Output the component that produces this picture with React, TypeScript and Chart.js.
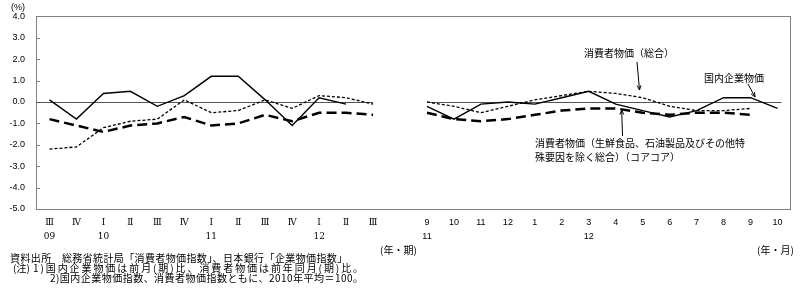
import React, { useEffect, useRef } from 'react';
import { Chart, registerables } from 'chart.js';

Chart.register(...registerables);

// ---- category / tick labels ----
const quarterTicks = ['Ⅲ', 'Ⅳ', 'Ⅰ', 'Ⅱ', 'Ⅲ', 'Ⅳ', 'Ⅰ', 'Ⅱ', 'Ⅲ', 'Ⅳ', 'Ⅰ', 'Ⅱ', 'Ⅲ'];
const quarterYears = ['09', '', '10', '', '', '', '11', '', '', '', '12', '', ''];
const monthTicks = ['9', '10', '11', '12', '1', '2', '3', '4', '5', '6', '7', '8', '9', '10'];
const monthYears = ['11', '', '', '', '', '', '12', '', '', '', '', '', '', ''];

// ---- series values (%) ----
// 国内企業物価 (前期比 / 前月比)
const cgpiQuarterly = [0.1, -0.8, 0.4, 0.5, -0.2, 0.3, 1.2, 1.2, 0.1, -1.1, 0.2, -0.1, null];
const cgpiMonthly = [-0.2, -0.8, -0.1, 0.0, -0.1, 0.2, 0.5, -0.1, -0.4, -0.7, -0.4, 0.2, 0.2, -0.3];
// 消費者物価(総合) (前年同期比 / 前年同月比)
const cpiQuarterly = [-2.2, -2.1, -1.2, -0.9, -0.8, 0.1, -0.5, -0.4, 0.1, -0.3, 0.3, 0.2, -0.1];
const cpiMonthly = [0.0, -0.2, -0.5, -0.2, 0.1, 0.3, 0.5, 0.4, 0.2, -0.2, -0.4, -0.4, -0.3, null];
// 消費者物価(コアコア)
const coreQuarterly = [-0.8, -1.1, -1.4, -1.1, -1.0, -0.7, -1.1, -1.0, -0.6, -0.9, -0.5, -0.5, -0.6];
const coreMonthly = [-0.5, -0.8, -0.9, -0.8, -0.6, -0.4, -0.3, -0.3, -0.5, -0.6, -0.5, -0.5, -0.6, null];

const Y_MIN = -5;
const Y_MAX = 4;
const Y_STEP = 1;

// ---- texts ----
const unitText = '(%)';
const quarterAxisText = '(年・期)';
const monthAxisText = '(年・月)';
const sourceText = '資料出所　総務省統計局「消費者物価指数」、日本銀行「企業物価指数」';
const noteHead = '(注)';
const note1 = '1)国内企業物価は前月(期)比、消費者物価は前年同月(期)比。';
const note2 = '2)国内企業物価指数、消費者物価指数ともに、2010年平均＝100。';
const labelCPI = '消費者物価（総合）';
const labelCGPI = '国内企業物価';
const labelCore1 = '消費者物価（生鮮食品、石油製品及びその他特';
const labelCore2 = '殊要因を除く総合）（コアコア）';

const labels: string[][] = [
  ...quarterTicks.map((t, i) => [t, quarterYears[i]]),
  ['', ''],
  ...monthTicks.map((t, i) => [t, monthYears[i]]),
];
const join = (q: (number | null)[], m: (number | null)[]) => [...q, null, ...m];

const JP = '"Noto Sans CJK JP", sans-serif';
const NUM = '"Liberation Sans", "Noto Sans CJK JP", sans-serif';
const ROMAN = '"DejaVu Serif", "Liberation Serif", serif';
const AXIS_COLOR = '#808080';

function arrow(ctx: CanvasRenderingContext2D, x1: number, y1: number, x2: number, y2: number) {
  ctx.beginPath();
  ctx.moveTo(x1, y1);
  ctx.lineTo(x2, y2);
  ctx.stroke();
  const a = Math.atan2(y2 - y1, x2 - x1);
  const len = 5;
  const w = 0.4;
  ctx.beginPath();
  ctx.moveTo(x2, y2);
  ctx.lineTo(x2 - len * Math.cos(a - w), y2 - len * Math.sin(a - w));
  ctx.moveTo(x2, y2);
  ctx.lineTo(x2 - len * Math.cos(a + w), y2 - len * Math.sin(a + w));
  ctx.stroke();
}

function fillFit(ctx: any, text: string, x: number, y: number, right: number) {
  ctx.letterSpacing = '0px';
  const w = ctx.measureText(text).width;
  const n = Array.from(text).length;
  const extra = Math.max(0, (right - x - w) / Math.max(1, n - 1));
  ctx.letterSpacing = `${extra.toFixed(2)}px`;
  ctx.fillText(text, x, y);
  ctx.letterSpacing = '0px';
}

const decorPlugin = {
  id: 'decor',
  beforeDatasetsDraw(chart: any) {
    const { ctx, chartArea, scales } = chart;
    const x = scales.x;
    const y = scales.y;
    ctx.save();
    // frame
    ctx.strokeStyle = AXIS_COLOR;
    ctx.lineWidth = 1;
    ctx.strokeRect(Math.round(chartArea.left) + 0.5, Math.round(chartArea.top) + 0.5,
      Math.round(chartArea.right - chartArea.left) - 1, Math.round(chartArea.bottom - chartArea.top));
    // inward y ticks
    ctx.beginPath();
    for (let v = Y_MIN; v <= Y_MAX; v += Y_STEP) {
      const py = Math.round(y.getPixelForValue(v)) + 0.5;
      ctx.moveTo(chartArea.left, py);
      ctx.lineTo(chartArea.left + 4, py);
    }
    ctx.stroke();
    // zero lines
    const z = Math.round(y.getPixelForValue(0)) + 0.5;
    ctx.strokeStyle = '#555';
    ctx.beginPath();
    ctx.moveTo(chartArea.left, z);
    ctx.lineTo(x.getPixelForValue(quarterTicks.length - 1), z);
    ctx.moveTo(x.getPixelForValue(quarterTicks.length + 1), z);
    ctx.lineTo(x.getPixelForValue(labels.length - 1) + 4, z);
    ctx.stroke();
    ctx.restore();
  },
  afterDraw(chart: any) {
    const { ctx } = chart;
    ctx.save();
    ctx.fillStyle = '#000';
    ctx.textBaseline = 'middle';
    ctx.textAlign = 'left';
    ctx.font = `9px ${NUM}`;
    ctx.fillText(unitText, 11, 8);
    ctx.font = `10px ${JP}`;
    ctx.fillText(quarterAxisText, 380, 250);
    ctx.fillText(monthAxisText, 757, 250);
    fillFit(ctx, sourceText, 10, 258, 347);
    ctx.fillText(noteHead, 13, 268);
    fillFit(ctx, note1, 33, 268, 363);
    fillFit(ctx, note2, 50, 278, 363);
    // annotations
    ctx.textAlign = 'center';
    ctx.fillText(labelCPI, 629, 53);
    ctx.fillText(labelCGPI, 734, 78);
    ctx.textAlign = 'left';
    ctx.fillText(labelCore1, 535, 143);
    ctx.fillText(labelCore2, 535, 157);
    ctx.strokeStyle = '#000';
    ctx.lineWidth = 1;
    arrow(ctx, 637, 62, 639.5, 90);
    arrow(ctx, 748, 84, 755, 97);
    arrow(ctx, 622.5, 136, 621.7, 110);
    ctx.restore();
  },
};

export default function App() {
  const ref = useRef<HTMLCanvasElement | null>(null);
  useEffect(() => {
    if (!ref.current) return;
    const chart = new Chart(ref.current, {
      type: 'line',
      data: {
        labels,
        datasets: [
          {
            label: '国内企業物価',
            data: join(cgpiQuarterly, cgpiMonthly),
            borderColor: '#000',
            borderWidth: 1.4,
            pointRadius: 0,
            tension: 0,
            spanGaps: false,
          },
          {
            label: '消費者物価(総合)',
            data: join(cpiQuarterly, cpiMonthly),
            borderColor: '#000',
            borderWidth: 1.3,
            borderDash: [3, 2],
            pointRadius: 0,
            tension: 0,
            spanGaps: false,
          },
          {
            label: '消費者物価(コアコア)',
            data: join(coreQuarterly, coreMonthly),
            borderColor: '#000',
            borderWidth: 2.5,
            borderDash: [10, 5],
            pointRadius: 0,
            tension: 0,
            spanGaps: false,
          },
        ],
      },
      options: {
        animation: false,
        responsive: false,
        maintainAspectRatio: false,
        layout: { padding: { left: 0, right: 9, top: 15, bottom: 0 } },
        plugins: { legend: { display: false }, tooltip: { enabled: false } },
        scales: {
          x: {
            type: 'category',
            offset: true,
            grid: { display: false, drawTicks: false },
            border: { display: false },
            ticks: {
              autoSkip: false,
              maxRotation: 0,
              padding: 7,
              color: '#000',
              font: (c: any) => ({
                family: c.index !== undefined && c.index < quarterTicks.length ? ROMAN : NUM,
                size: 9,
                lineHeight: 1.55,
              }),
            },
            afterFit: (s: any) => { s.height = 84; },
          },
          y: {
            min: Y_MIN,
            max: Y_MAX,
            grid: { display: false, drawTicks: false },
            border: { display: false },
            ticks: {
              stepSize: Y_STEP,
              padding: 11,
              color: '#000',
              font: { family: NUM, size: 9 },
              callback: (v: any) => Number(v).toFixed(1),
            },
            afterFit: (s: any) => { s.width = 36; },
          },
        },
      },
      plugins: [decorPlugin],
    });
    return () => chart.destroy();
  }, []);
  return (
    <div style={{ position: 'absolute', left: 0, top: 0, width: 800, height: 293 }}>
      <canvas ref={ref} width={800} height={293} style={{ width: 800, height: 293, display: 'block' }} />
    </div>
  );
}
